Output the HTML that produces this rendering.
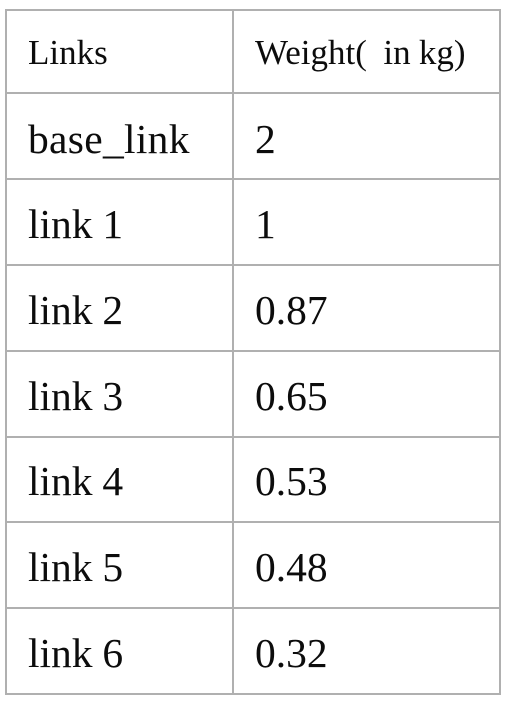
<!DOCTYPE html>
<html lang="en">
<head>
<meta charset="utf-8">
<title>Link weights</title>
<style>
  html, body { margin: 0; padding: 0; background: #fff; width: 508px; height: 702px; overflow: hidden; }
  #wrap { position: absolute; left: 0; top: 0; width: 508px; height: 702px; filter: blur(0.35px); }
  table { position: absolute; left: 5px; top: 9px; border-collapse: collapse; table-layout: fixed; width: 494px;
    font-family: "Liberation Serif", "Times New Roman", serif; color: #0c0c0c; }
  col.c1 { width: 227px; }
  col.c2 { width: 267px; }
  td { border: 2px solid #b0b0b0; padding: 3px 0 0 21px; vertical-align: middle; font-size: 41.5px; line-height: 48px; word-spacing: -0.5px; white-space: pre; box-sizing: border-box; overflow: hidden; }
  td.v { padding-left: 21px; }
  tr.head td { font-size: 35px; padding-top: 2px; word-spacing: -0.5px; }
  tr.base td { padding-top: 5px; }
  td.wide { letter-spacing: 0.3px; }
</style>
</head>
<body>
<div id="wrap">
<table>
  <colgroup><col class="c1"><col class="c2"></colgroup>
  <tr class="head" style="height:83px">
    <td>Links</td>
    <td class="v">Weight(  in kg)</td>
  </tr>
  <tr class="base" style="height:86px">
    <td class="wide">base_link</td>
    <td class="v">2</td>
  </tr>
  <tr style="height:86px">
    <td>link 1</td>
    <td class="v">1</td>
  </tr>
  <tr style="height:86px">
    <td>link 2</td>
    <td class="v">0.87</td>
  </tr>
  <tr style="height:86px">
    <td>link 3</td>
    <td class="v">0.65</td>
  </tr>
  <tr style="height:85px">
    <td>link 4</td>
    <td class="v">0.53</td>
  </tr>
  <tr style="height:86px">
    <td>link 5</td>
    <td class="v">0.48</td>
  </tr>
  <tr style="height:86px">
    <td>link 6</td>
    <td class="v">0.32</td>
  </tr>
</table>
</div>
</body>
</html>
